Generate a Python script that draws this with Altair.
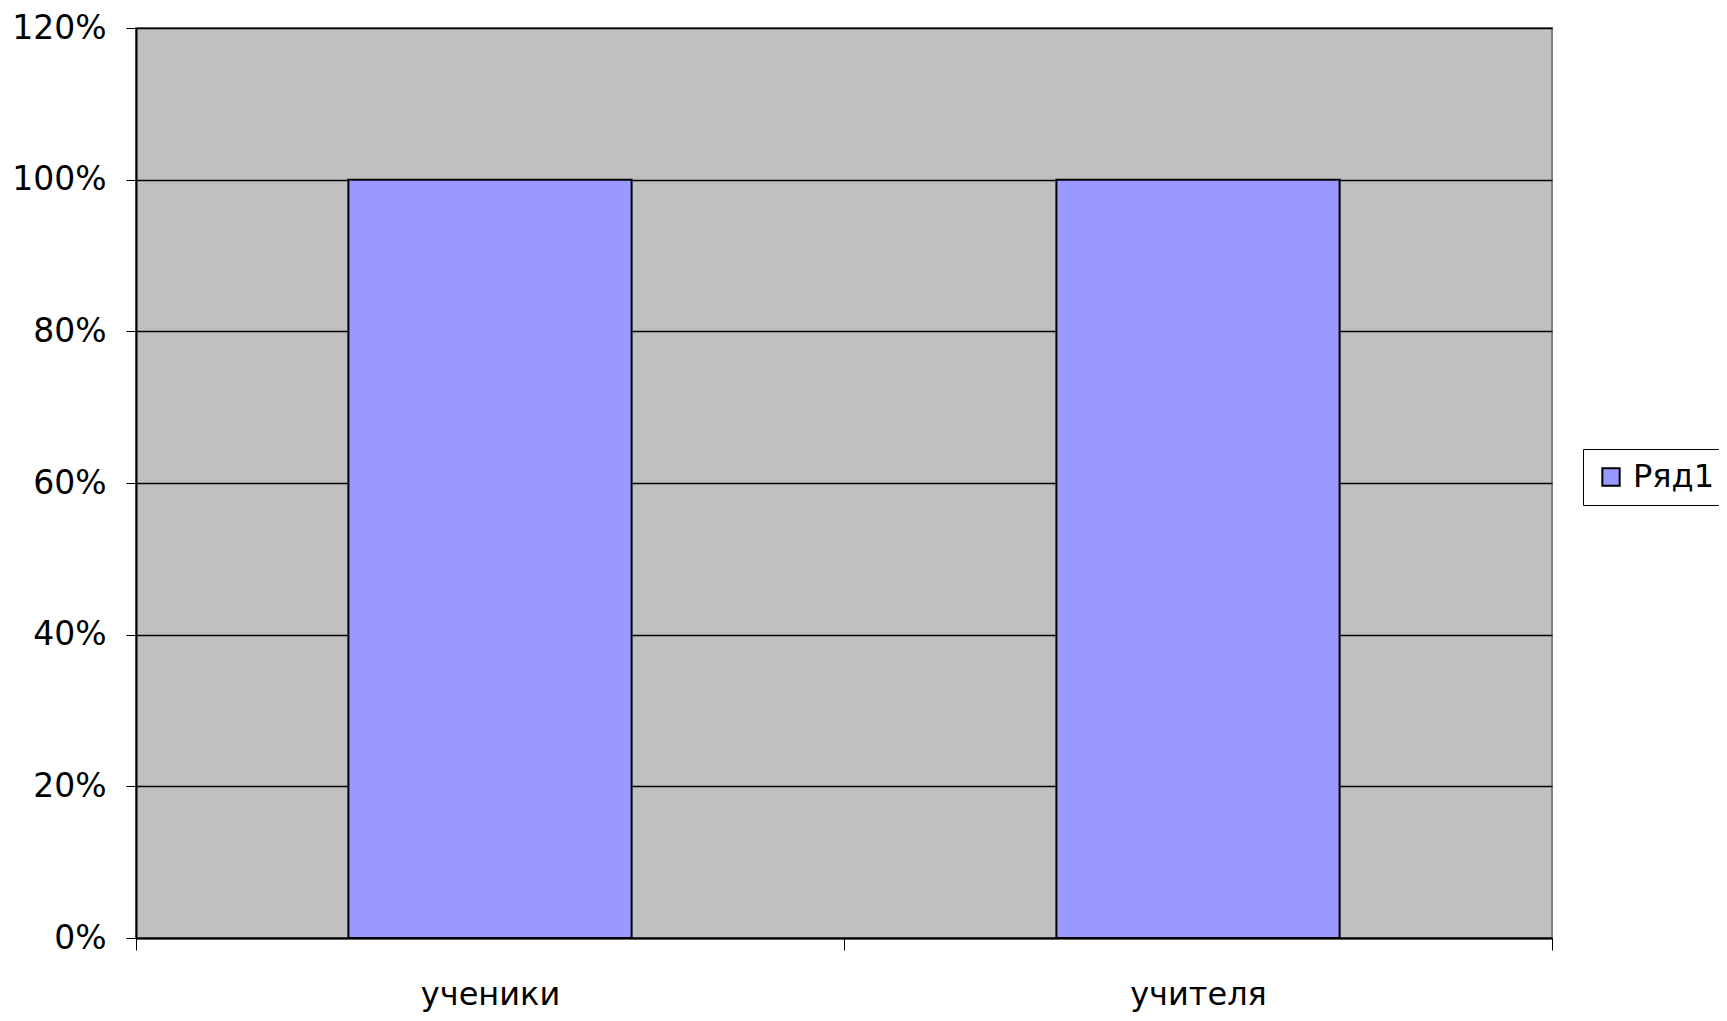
import altair as alt
import pandas as pd

categories = ["ученики", "учителя"]
values = [1.0, 1.0]
series = ["Ряд1", "Ряд1"]

df = pd.DataFrame({"cat": categories, "val": values, "series": series})

FONT = "DejaVu Sans"

chart = alt.Chart(df).mark_bar(stroke="black", strokeWidth=2,
                               width=alt.RelativeBandSize(0.4)).encode(
    x=alt.X("cat:N", sort=categories,
            scale=alt.Scale(paddingInner=0, paddingOuter=0),
            axis=alt.Axis(title=None, labelAngle=0, tickBand="extent", tickSize=12,
                          tickColor="black", domainColor="black", domainWidth=2,
                          labelFont=FONT, labelFontSize=32, labelColor="black",
                          labelPadding=29, grid=False)),
    y=alt.Y("val:Q", scale=alt.Scale(domain=[0, 1.2], nice=False),
            axis=alt.Axis(title=None, format=".0%", values=[0, 0.2, 0.4, 0.6, 0.8, 1.0, 1.2],
                          tickSize=10, tickColor="black", domainColor="black", domainWidth=2,
                          gridColor="black", gridWidth=1.5, grid=True,
                          labelFont=FONT, labelFontSize=33, labelColor="black",
                          labelPadding=20)),
    color=alt.Color("series:N", scale=alt.Scale(range=["#9999FF"]),
                    legend=alt.Legend(title=None, orient="none", legendX=1447, legendY=421,
                                      labelFont=FONT, labelFontSize=32, labelColor="black",
                                      symbolType="square", symbolSize=300,
                                      symbolStrokeColor="black", symbolStrokeWidth=2,
                                      strokeColor="black", fillColor="white",
                                      padding=12, labelOffset=6)),
).properties(
    width=1416, height=910,
    autosize=alt.AutoSizeParams(type="none"),
    padding={"left": 128, "top": 20, "right": 167, "bottom": 75},
).configure_view(
    fill="#C0C0C0", stroke="#808080", strokeWidth=2
)

chart.save("out.html", embed_options={"renderer": "svg", "actions": False})
